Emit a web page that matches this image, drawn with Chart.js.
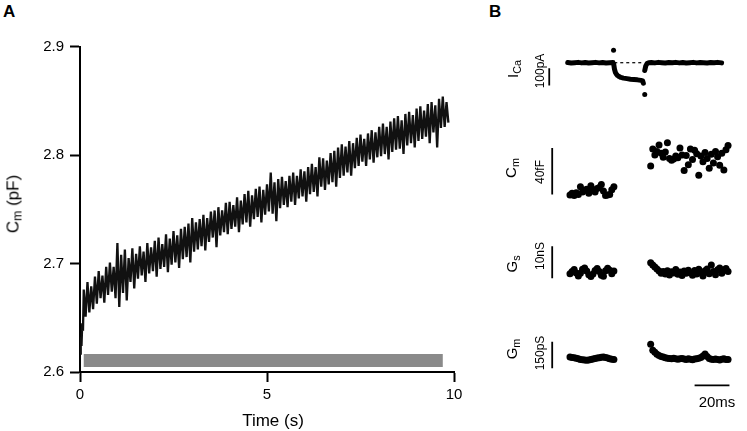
<!DOCTYPE html>
<html>
<head>
<meta charset="utf-8">
<script src="https://cdn.jsdelivr.net/npm/chart.js"></script>
<style>
  body { margin: 0; background: #fff; }
  #fig { position: relative; width: 747px; height: 431px; overflow: hidden; font-family: "Liberation Sans", Arial, sans-serif; color: #000; }
  canvas { position: absolute; }
  .lbl { position: absolute; white-space: nowrap; line-height: 1; color: #000; }
  .lbl sub { font-size: 72%; vertical-align: -0.28em; line-height: 0; }
  .panel { position: absolute; font-weight: bold; font-size: 17px; line-height: 1; }
</style>
</head>
<body>
<div id="fig">
  <div class="panel" style="left:3px;top:3px">A</div>
  <div class="panel" style="left:489px;top:3px">B</div>
  <canvas id="capChart" width="480" height="431" style="left:0;top:0"></canvas>
  <canvas id="icaChart" width="252" height="90" style="left:494px;top:25px"></canvas>
  <canvas id="cmChart" width="252" height="90" style="left:494px;top:125px"></canvas>
  <canvas id="gsChart" width="252" height="70" style="left:494px;top:230px"></canvas>
  <canvas id="gmChart" width="252" height="90" style="left:494px;top:325px"></canvas>
</div>
<script>
// ---- panel A: membrane capacitance during the train (s, pF)
var SAMPLE_DT = 0.1;
var FIRST_SAMPLE = 0.1;

var preTime = [0.0, 0.02, 0.04, 0.06, 0.08];
var preCap = [2.617, 2.632, 2.624, 2.645, 2.638];

// upper and lower edge of the noisy trace, one pair per 0.1 s from 0.1 s
var capHigh = [
    2.676, 2.683, 2.679, 2.688, 2.693, 2.689, 2.697, 2.701, 2.697, 2.719,
    2.708, 2.713, 2.705, 2.714, 2.709, 2.716, 2.711, 2.719, 2.715, 2.721,
    2.724, 2.718, 2.727, 2.723, 2.730, 2.726, 2.732, 2.734, 2.737, 2.742,
    2.738, 2.741, 2.745, 2.742, 2.748, 2.749, 2.752, 2.749, 2.756, 2.757,
    2.754, 2.761, 2.758, 2.764, 2.767, 2.763, 2.769, 2.771, 2.768, 2.773,
    2.784, 2.775, 2.778, 2.780, 2.776, 2.781, 2.784, 2.781, 2.787, 2.785,
    2.789, 2.792, 2.789, 2.798, 2.797, 2.795, 2.802, 2.804, 2.807, 2.810,
    2.808, 2.813, 2.811, 2.816, 2.819, 2.815, 2.820, 2.823, 2.821, 2.826,
    2.829, 2.826, 2.831, 2.834, 2.836, 2.832, 2.838, 2.840, 2.837, 2.843,
    2.845, 2.841, 2.847, 2.849, 2.846, 2.852, 2.854, 2.849
];
var capLow = [
    2.651, 2.655, 2.658, 2.663, 2.668, 2.664, 2.671, 2.674, 2.668, 2.660,
    2.673, 2.666, 2.683, 2.677, 2.686, 2.689, 2.683, 2.691, 2.693, 2.688,
    2.695, 2.697, 2.692, 2.699, 2.701, 2.696, 2.704, 2.706, 2.701, 2.711,
    2.713, 2.716, 2.712, 2.720, 2.724, 2.715, 2.726, 2.729, 2.727, 2.732,
    2.734, 2.729, 2.736, 2.738, 2.734, 2.741, 2.743, 2.738, 2.745, 2.748,
    2.746, 2.739, 2.751, 2.754, 2.752, 2.757, 2.754, 2.760, 2.762, 2.757,
    2.764, 2.766, 2.762, 2.771, 2.768, 2.773, 2.775, 2.771, 2.779, 2.781,
    2.784, 2.781, 2.788, 2.790, 2.794, 2.790, 2.796, 2.793, 2.798, 2.799,
    2.801, 2.796, 2.803, 2.805, 2.806, 2.801, 2.809, 2.811, 2.807, 2.813,
    2.815, 2.817, 2.811, 2.821, 2.807, 2.825, 2.826, 2.830
];

var stimTime = [0.1, 9.7];
var stimLevel = 2.6106;

var xTicksA = [0, 5, 10];
var yTicksA = [2.6, 2.7, 2.8, 2.9];

// ---- panel B: single depolarisation (ms)
var icaTime = [0, 2, 4, 6, 8, 10, 12, 14, 16, 18, 20, 22, 24, 26,
    26.2,
    26.4, 26.8, 27.3, 27.9, 28.6, 29.5, 30.5, 32, 34, 36, 38, 40, 42, 43, 43.4,
    43.8,
    44.2, 44.8, 45.5, 46.5, 48, 50, 52, 54, 56, 58, 60, 62, 64, 66, 68, 70, 72, 74, 76, 78, 80, 82, 84, 86, 88.3];
var icaValue = [1, -2, 0, 2, -1, 1, -2, 0, 2, -1, 1, -2, 0, 1,
    null,
    -8, -35, -55, -66, -74, -80, -85, -89, -92, -95, -97, -99, -102, -105, -118,
    null,
    -45, -18, -5, 0, 1, -1, 2, 0, -2, 1, 0, 2, -1, 1, -2, 0, 2, -1, 1, 0, -2, 1, 0, 2, -1];
var icaPeaks = [[26.3, 72], [44.2, -184]];
var icaZero = [26.7, 43.9];

var timesBefore = [1.3, 2.5, 3.7, 4.9, 6.1, 7.3, 8.5, 9.7, 10.9, 12.1, 13.3,
    14.5, 15.7, 16.9, 18.1, 19.3, 20.5, 21.7, 22.9, 24.1, 25.3, 26.5];
var timesAfter = [47.6, 48.8, 50.0, 51.2, 52.4, 53.6, 54.8, 56.0, 57.2, 58.4,
    59.6, 60.8, 62.0, 63.2, 64.4, 65.6, 66.8, 68.0, 69.2, 70.4,
    71.6, 72.8, 74.0, 75.2, 76.4, 77.6, 78.8, 80.0, 81.2, 82.4,
    83.6, 84.8, 86.0, 87.2, 88.4, 89.6, 90.8, 92.0];

// fF, relative to the pre-pulse level
var cmBefore = [-3.5, -2.0, -4.0, -1.5, -3.0, 3.5, -1.0, 0.5, 1.5, -2.0, 4.5,
    1.0, -1.0, 2.0, 3.0, 5.5, 0.0, -4.0, -3.5, -3.0, 1.0, 3.5];
var cmAfter = [21.5, 36.0, 31.0, 34.0, 39.5, 32.5, 29.0, 33.5, 41.5, 28.0,
    26.5, 27.5, 30.0, 28.5, 37.0, 31.0, 17.5, 30.5, 22.5, 36.0,
    27.0, 35.0, 32.0, 13.5, 30.0, 25.0, 33.0, 28.0, 19.5, 31.5,
    24.0, 34.0, 29.5, 22.0, 32.5, 18.0, 35.5, 39.0];

// nS
var gsBefore = [-0.5, 0.2, 0.8, -0.3, -1.2, -0.4, 0.9, 1.3, 0.3, -0.8, -1.4,
    -0.6, 0.5, 1.1, 0.2, -1.0, -1.3, 0.4, 1.2, 0.6, -0.5, 0.3];
var gsAfter = [2.9, 2.2, 1.6, 1.0, 0.3, -0.4, 0.2, -0.6, 0.4, -0.9,
    0.1, -0.3, 0.8, -0.7, 0.0, -1.1, 0.3, -0.4, 0.6, -0.2,
    -1.0, 0.5, -0.6, 0.9, -0.3, -1.2, 0.4, 1.0, -0.5, 2.2,
    0.2, -0.8, 0.7, 1.3, -0.4, 0.6, 1.1, 0.2];

// pS
var gmBefore = [6, 4, 2, -1, -4, -7, -9, -11, -12, -10, -8,
    -5, -2, 1, 3, 5, 6, 4, 1, -3, -6, -8];
var gmAfter = [79, 45, 33, 22, 15, 10, 6, 3, 0, -2,
    -3, -1, -4, -6, -3, -2, -5, -7, -4, -6,
    -9, -5, -3, -1, 4, 12, 24, 10, -2, -6,
    -8, -5, -7, -10, -6, -4, -8, -7];

// scale bars
var icaBar = [-32, -132];     // 100 pA
var cmBar = [37, -3];         // 40 fF
var gsBar = [8.06, -1.94];    // 10 nS
var gmBar = [93, -57];        // 150 pS
var timeBar = [72.8, 92.8];   // 20 ms
var timeBarLevel = -155;

var FONT = '"Liberation Sans", Arial, sans-serif';
Chart.defaults.font.family = FONT;
Chart.defaults.color = '#000';

function pairs(xs, ys) {
    var out = [];
    for (var i = 0; i < xs.length; i++) {
        out.push({x: xs[i], y: ys[i]});
    }
    return out;
}

function traceData() {
    var pts = pairs(preTime, preCap);
    for (var i = 0; i < capHigh.length; i++) {
        var t = FIRST_SAMPLE + i * SAMPLE_DT;
        pts.push({x: t, y: capHigh[i]});
        pts.push({x: t + SAMPLE_DT / 2, y: capLow[i]});
    }
    return pts;
}

new Chart(document.getElementById('capChart'), {
    type: 'line',
    data: {
        datasets: [{
            data: [{x: stimTime[0], y: stimLevel}, {x: stimTime[1], y: stimLevel}],
            borderColor: '#8a8a8a',
            borderWidth: 13,
            borderCapStyle: 'butt',
            pointRadius: 0,
        }, {
            data: traceData(),
            borderColor: '#111',
            borderWidth: 2.3,
            borderJoinStyle: 'miter',
            pointRadius: 0,
            tension: 0,
        }],
    },
    options: {
        responsive: false,
        animation: false,
        devicePixelRatio: 1,
        layout: {padding: {top: 46.7, right: 26, left: 0, bottom: 0}},
        plugins: {legend: {display: false}, tooltip: {enabled: false}},
        scales: {
            x: {
                type: 'linear',
                min: xTicksA[0],
                max: xTicksA[xTicksA.length - 1],
                afterBuildTicks: function(s) { s.ticks = xTicksA.map(function(v) { return {value: v}; }); },
                ticks: {color: '#000', font: {size: 15}, padding: 4, maxRotation: 0},
                grid: {drawOnChartArea: false, tickLength: 10, tickWidth: 2, tickColor: '#000', color: '#000'},
                border: {color: '#000', width: 2},
                afterFit: function(s) { s.height = 59; },
            },
            y: {
                type: 'linear',
                min: yTicksA[0],
                max: yTicksA[yTicksA.length - 1],
                afterBuildTicks: function(s) { s.ticks = yTicksA.map(function(v) { return {value: v}; }); },
                ticks: {color: '#000', font: {size: 15}, padding: 6, callback: function(v) { return v.toFixed(1); }},
                grid: {drawOnChartArea: false, tickLength: 10, tickWidth: 2, tickColor: '#000', color: '#000'},
                border: {color: '#000', width: 2},
                afterFit: function(s) { s.width = 80; },
            },
        },
    },
});

function dots(xs, ys) {
    return {
        data: pairs(xs, ys),
        showLine: false,
        pointRadius: 3.5,
        pointBackgroundColor: '#000',
        pointBorderWidth: 0,
    };
}

function segment(xs, ys, width, dash) {
    return {
        data: pairs(xs, ys),
        borderColor: '#000',
        borderWidth: width,
        borderDash: dash || [],
        borderCapStyle: 'butt',
        pointRadius: 0,
        spanGaps: false,
    };
}

function smallChart(id, datasets, yMin, yMax) {
    return new Chart(document.getElementById(id), {
        type: 'line',
        data: {datasets: datasets},
        options: {
            responsive: false,
            animation: false,
            devicePixelRatio: 1,
            layout: {padding: 0},
            plugins: {legend: {display: false}, tooltip: {enabled: false}},
            scales: {
                x: {type: 'linear', min: -40, max: 100, display: false},
                y: {type: 'linear', min: yMin, max: yMax, display: false},
            },
        },
    });
}

var icaLine = segment(icaTime, icaValue, 5);
icaLine.borderJoinStyle = 'round';
icaLine.borderCapStyle = 'round';
var icaDots = dots(icaPeaks.map(function(p) { return p[0]; }), icaPeaks.map(function(p) { return p[1]; }));
icaDots.pointRadius = 2.5;
smallChart('icaChart', [
    icaLine,
    segment(icaZero, [0, 0], 1.2, [3, 3]),
    icaDots,
    segment([-10.6, -10.6], icaBar, 1.8),
], -278.9, 194.7);

smallChart('cmChart', [
    dots(timesBefore, cmBefore),
    dots(timesAfter, cmAfter),
    segment([-8.9, -8.9], cmBar, 1.8),
], -17.3, 53.3);

smallChart('gsChart', [
    dots(timesBefore, gsBefore),
    dots(timesAfter, gsAfter),
    segment([-8.9, -8.9], gsBar, 1.8),
], -7.5, 11.94);

smallChart('gmChart', [
    dots(timesBefore, gmBefore),
    dots(timesAfter, gmAfter),
    segment([-8.9, -8.9], gmBar, 1.8),
    segment(timeBar, [timeBarLevel, timeBarLevel], 1.8),
], -300, 165.5);

// text labels
function label(html, cx, cy, size, rotated) {
    var d = document.createElement('div');
    d.className = 'lbl';
    d.innerHTML = html;
    d.style.left = cx + 'px';
    d.style.top = cy + 'px';
    d.style.fontSize = size + 'px';
    d.style.transform = 'translate(-50%, -50%)' + (rotated ? ' rotate(-90deg)' : '');
    document.getElementById('fig').appendChild(d);
}

label('C<sub>m</sub> (pF)', 13, 204, 17, true);
label('Time (s)', 273, 420, 17, false);
label('I<sub>Ca</sub>', 512, 69, 15, true);
label('100pA', 540, 71, 12, true);
label('C<sub>m</sub>', 510, 168, 15, true);
label('40fF', 540, 172, 12, true);
label('G<sub>s</sub>', 511, 264, 15, true);
label('10nS', 540, 256, 12, true);
label('G<sub>m</sub>', 511, 349, 15, true);
label('150pS', 540, 353, 12, true);
label('20ms', 717, 401, 15, false);
</script>
</body>
</html>
